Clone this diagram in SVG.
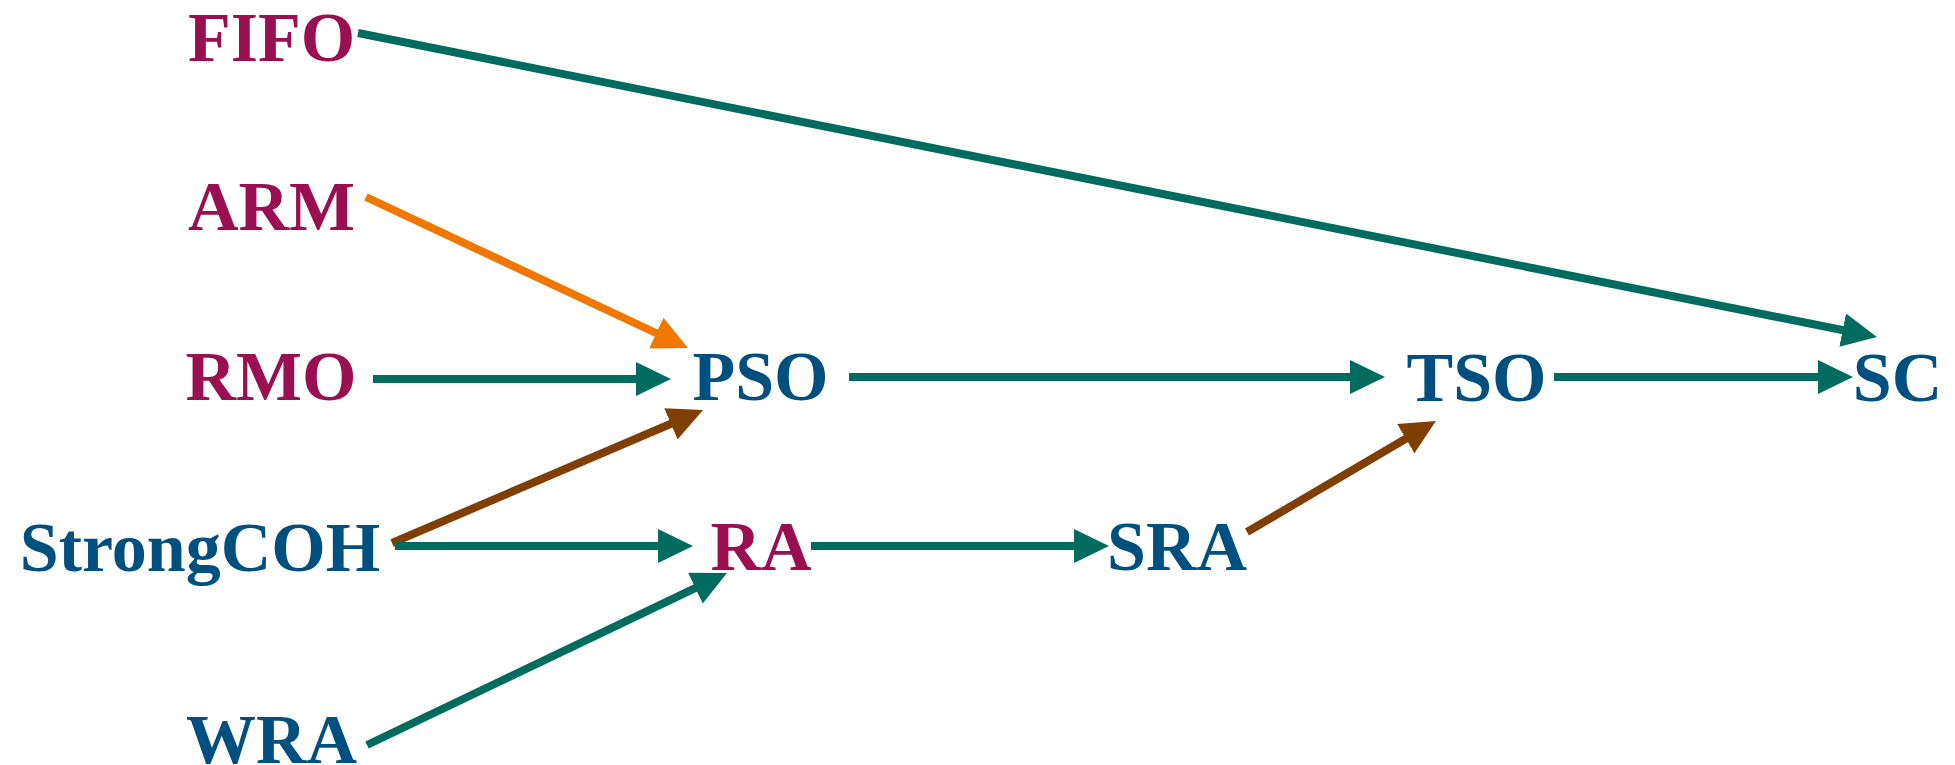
<svg xmlns="http://www.w3.org/2000/svg" width="1955" height="765" viewBox="0 0 1955 765">
  <style>
    text { font-family: "Liberation Serif", "Times New Roman", serif; font-weight: bold; font-size: 70px; text-anchor: middle; }
    .mag { fill: #990F4F; }
    .blu { fill: #00507F; }
    line { stroke-width: 8; fill: none; stroke-linecap: butt; }
    .teal { stroke: #006C60; }
    .orange { stroke: #F07800; }
    .brown { stroke: #7F3F00; }
  </style>
  <defs>
    <marker id="ah-teal" markerUnits="userSpaceOnUse" markerWidth="36" markerHeight="36" refX="2" refY="17" orient="auto">
      <path d="M0,0 L35,17 L0,34 z" fill="#006C60"/>
    </marker>
    <marker id="ah-orange" markerUnits="userSpaceOnUse" markerWidth="36" markerHeight="36" refX="2" refY="17" orient="auto">
      <path d="M0,0 L35,17 L0,34 z" fill="#F07800"/>
    </marker>
    <marker id="ah-brown" markerUnits="userSpaceOnUse" markerWidth="36" markerHeight="36" refX="2" refY="17" orient="auto">
      <path d="M0,0 L35,17 L0,34 z" fill="#7F3F00"/>
    </marker>
  </defs>
  <rect width="1955" height="765" fill="#FFFFFF"/>

  <g id="connectors">
    <line class="teal" x1="358" y1="33" x2="1844.6" y2="330.5" marker-end="url(#ah-teal)"/>
    <line class="orange" x1="366" y1="197" x2="658.1" y2="334" marker-end="url(#ah-orange)"/>
    <line class="teal" x1="373" y1="379" x2="638" y2="379" marker-end="url(#ah-teal)"/>
    <line class="brown" x1="392" y1="543" x2="672.7" y2="423" marker-end="url(#ah-brown)"/>
    <line class="teal" x1="395" y1="546" x2="660" y2="546" marker-end="url(#ah-teal)"/>
    <line class="teal" x1="367" y1="745" x2="697.2" y2="587.2" marker-end="url(#ah-teal)"/>
    <line class="teal" x1="849" y1="377" x2="1352" y2="377" marker-end="url(#ah-teal)"/>
    <line class="teal" x1="811" y1="546" x2="1076" y2="546" marker-end="url(#ah-teal)"/>
    <line class="brown" x1="1247" y1="532" x2="1407.5" y2="437.7" marker-end="url(#ah-brown)"/>
    <line class="teal" x1="1554" y1="377" x2="1820" y2="377" marker-end="url(#ah-teal)"/>
  </g>

  <g id="FIFO"><text class="mag" x="271.5" y="61">FIFO</text></g>
  <g id="ARM"><text class="mag" x="271.5" y="230">ARM</text></g>
  <g id="RMO"><text class="mag" x="271" y="400">RMO</text></g>
  <g id="StrongCOH"><text class="blu" x="200" y="571">StrongCOH</text></g>
  <g id="WRA"><text class="blu" x="271.5" y="763">WRA</text></g>
  <g id="PSO"><text class="blu" x="760.5" y="400">PSO</text></g>
  <g id="RA"><text class="mag" x="761" y="570">RA</text></g>
  <g id="SRA"><text class="blu" x="1177" y="570">SRA</text></g>
  <g id="TSO"><text class="blu" x="1476.5" y="401">TSO</text></g>
  <g id="SC"><text class="blu" x="1897.5" y="401">SC</text></g>
</svg>
